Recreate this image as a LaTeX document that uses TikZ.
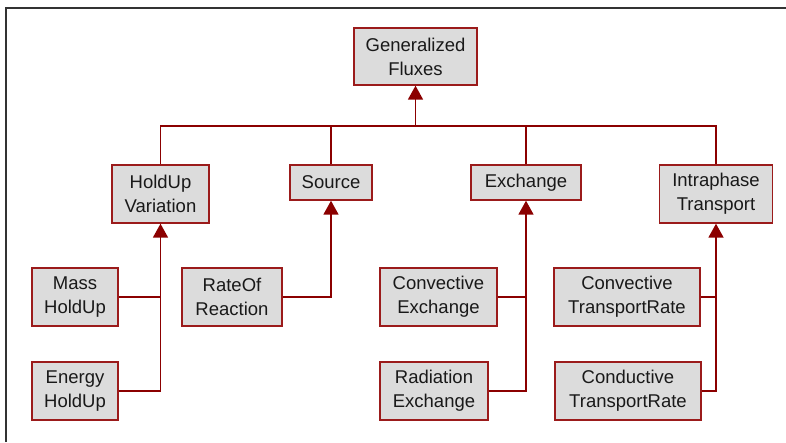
\documentclass[tikz,border=0pt]{standalone}
\usepackage{fontspec}
\setmainfont{Liberation Sans}
\usetikzlibrary{arrows.meta}
\definecolor{boxred}{HTML}{9B1B1B}
\definecolor{linkred}{HTML}{8B0000}
\definecolor{boxgray}{HTML}{DCDCDC}
\definecolor{frame}{HTML}{333333}
\tikzset{
  box/.style={draw=boxred, fill=boxgray, line width=1.4pt, align=center, inner sep=0pt,
    font=\fontsize{18.5}{24}\selectfont, text=black!90},
  link/.style={draw=linkred, line width=1.8pt},
  arr/.style={link, -{Triangle[width=15pt,length=14pt]}}
}
\begin{document}
\begin{tikzpicture}[x=1pt,y=-1pt]
\useasboundingbox (0,0) rectangle (786,442);
\draw[frame, line width=2pt] (6,442) -- (6,7.5) -- (786,7.5);

\node[box, minimum width=123pt, minimum height=57pt] (gf) at (415.5,56.5) {Generalized\\Fluxes};

\node[box, minimum width=97pt, minimum height=58pt] (hv) at (160.5,194) {HoldUp\\Variation};
\node[box, minimum width=82pt, minimum height=35pt] (src) at (331,182.5) {Source};
\node[box, minimum width=110pt, minimum height=35pt] (ex) at (526,182.5) {Exchange};
\node[box, minimum width=113pt, minimum height=58pt] (it) at (716,194) {Intraphase\\Transport};

\node[box, minimum width=86pt, minimum height=58pt] (mh) at (75,297) {Mass\\HoldUp};
\node[box, minimum width=86pt, minimum height=58pt] (eh) at (75,391) {Energy\\HoldUp};
\node[box, minimum width=100pt, minimum height=58pt] (rr) at (232,297) {RateOf\\Reaction};
\node[box, minimum width=117pt, minimum height=58pt] (ce) at (438.5,297) {Convective\\Exchange};
\node[box, minimum width=108pt, minimum height=58pt] (re) at (434,391) {Radiation\\Exchange};
\node[box, minimum width=146pt, minimum height=58pt] (ct) at (627,297) {Convective\\TransportRate};
\node[box, minimum width=146pt, minimum height=58pt] (kt) at (628,391) {Conductive\\TransportRate};

\coordinate (bus) at (415.5,126);
\draw[link] (hv.north) -- (hv.north |- bus) -- (it.north |- bus) -- (it.north);
\draw[link] (src.north) -- (src.north |- bus);
\draw[link] (ex.north) -- (ex.north |- bus);
\draw[arr] (bus) -- (gf.south);

\draw[arr] (eh.east) -| (hv.south);
\draw[link] (mh.east) -- (mh.east -| hv.south);
\draw[arr] (rr.east) -| (src.south);
\draw[arr] (re.east) -| (ex.south);
\draw[link] (ce.east) -- (ce.east -| ex.south);
\draw[arr] (kt.east) -| (it.south);
\draw[link] (ct.east) -- (ct.east -| it.south);
\end{tikzpicture}
\end{document}
